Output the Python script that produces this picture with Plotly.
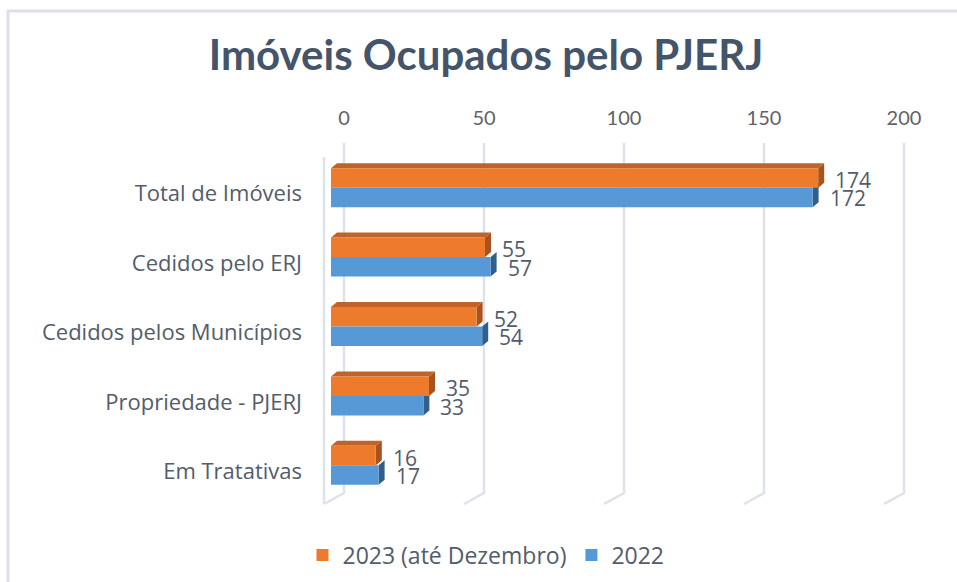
import plotly.graph_objects as go

categories = ["Total de Imóveis", "Cedidos pelo ERJ", "Cedidos pelos Municípios",
              "Propriedade - PJERJ", "Em Tratativas"]
series_2023 = [174, 55, 52, 35, 16]
series_2022 = [172, 57, 54, 33, 17]
series_names = ["2023 (até Dezembro)", "2022"]
tick_values = [0, 50, 100, 150, 200]
tick_labels = ["0", "50", "100", "150", "200"]

title_text = "Imóveis Ocupados pelo PJERJ"

# ---- layout geometry (pixels) ----
W, H = 957, 582
L, R, T, B = 331, 52, 153, 82
PW, PH = W - L - R, H - T - B
X_RANGE = [0, 205]
PX_PER_UNIT = PW / (X_RANGE[1] - X_RANGE[0])
PX_PER_CAT = PH / len(categories)
BACK_DX = 13 / PX_PER_UNIT          # back plane shift (units)
X2_RANGE = [X_RANGE[0] - BACK_DX, X_RANGE[1] - BACK_DX]
BARGAP = 0.438
BW = (1 - BARGAP) / 2               # single bar width (category units)
DEPTH_X = 6 / PX_PER_UNIT
DEPTH_Y = 5 / PX_PER_CAT

ORANGE, ORANGE_TOP, ORANGE_SIDE = "#EE7B2C", "#C0632B", "#A9521D"
BLUE, BLUE_SIDE = "#5699D6", "#2F5F8C"
GRID = "#DEE2EA"
TEXT = "#535C6B"


def px_to_paper_x(px):
    return (px - L) / PW


def px_to_paper_y(py):
    return (H - B - py) / PH


fig = go.Figure()
fig.add_trace(go.Bar(y=categories, x=series_2023, orientation="h", name=series_names[0],
                     marker=dict(color=ORANGE, line=dict(width=0))))
fig.add_trace(go.Bar(y=categories, x=series_2022, orientation="h", name=series_names[1],
                     marker=dict(color=BLUE, line=dict(width=0))))
# invisible trace to carry the top (back-plane) axis
fig.add_trace(go.Scatter(x=[tick_values[0], tick_values[-1]], y=[categories[0], categories[0]],
                         xaxis="x2", mode="markers", marker=dict(opacity=0),
                         showlegend=False, hoverinfo="skip"))

shapes = []
# chart border
shapes.append(dict(type="rect", xref="paper", yref="paper",
                   x0=px_to_paper_x(8), x1=px_to_paper_x(1100),
                   y0=px_to_paper_y(11), y1=px_to_paper_y(700),
                   line=dict(color="#DCE0E8", width=3), layer="below"))
# back-plane gridlines with floor diagonals
y_top = px_to_paper_y(143)
y_bot = px_to_paper_y(493)
y_front = px_to_paper_y(504)
for t in tick_values:
    xp = (t - X2_RANGE[0]) / (X2_RANGE[1] - X2_RANGE[0])
    xf = xp - 20 / PW
    shapes.append(dict(type="path", xref="paper", yref="paper",
                       path=f"M{xp},{y_top} L{xp},{y_bot} L{xf},{y_front}",
                       line=dict(color=GRID, width=2.5), layer="below"))
# left wall front edge
shapes.append(dict(type="line", xref="paper", yref="paper",
                   x0=px_to_paper_x(324), x1=px_to_paper_x(324),
                   y0=px_to_paper_y(157), y1=y_front,
                   line=dict(color=GRID, width=2.5), layer="below"))

# 3D faces
for i, (v23, v22) in enumerate(zip(series_2023, series_2022)):
    # blue side face
    shapes.append(dict(type="path", xref="x", yref="y",
                       path=(f"M{v22},{i} L{v22},{i + BW} L{v22 + DEPTH_X},{i + BW - DEPTH_Y} "
                             f"L{v22 + DEPTH_X},{i - DEPTH_Y} Z"),
                       fillcolor=BLUE_SIDE, line=dict(width=0), layer="below"))
for i, (v23, v22) in enumerate(zip(series_2023, series_2022)):
    top = i - BW
    shapes.append(dict(type="path", xref="x", yref="y",
                       path=(f"M0,{top} L{v23},{top} L{v23 + DEPTH_X},{top - DEPTH_Y} "
                             f"L{DEPTH_X},{top - DEPTH_Y} Z"),
                       fillcolor=ORANGE_TOP, line=dict(width=0), layer="below"))
    shapes.append(dict(type="path", xref="x", yref="y",
                       path=(f"M{v23},{top} L{v23},{i} L{v23 + DEPTH_X},{i - DEPTH_Y} "
                             f"L{v23 + DEPTH_X},{top - DEPTH_Y} Z"),
                       fillcolor=ORANGE_SIDE, line=dict(width=0), layer="below"))

LABEL_FONT = dict(size=21, color=TEXT, family="Open Sans")
annotations = []
for i, (v23, v22) in enumerate(zip(series_2023, series_2022)):
    annotations.append(dict(x=v23, y=i - BW / 2, xref="x", yref="y", text=str(v23),
                            showarrow=False, xanchor="left", yanchor="middle",
                            xshift=15, yshift=-2, font=LABEL_FONT))
    annotations.append(dict(x=v22, y=i + BW / 2, xref="x", yref="y", text=str(v22),
                            showarrow=False, xanchor="left", yanchor="middle",
                            xshift=15, yshift=-1, font=LABEL_FONT))

fig.update_layout(
    width=W, height=H,
    margin=dict(l=L, r=R, t=T, b=B, pad=0, autoexpand=False),
    paper_bgcolor="white", plot_bgcolor="rgba(0,0,0,0)",
    barmode="group", bargap=BARGAP, bargroupgap=0,
    title=dict(text=f"<b>{title_text}</b>", x=486 / W, xanchor="center",
               y=1 - 55 / H, yanchor="middle", xref="container", yref="container",
               font=dict(family="Lato", size=42, color="#44546A")),
    xaxis=dict(range=X_RANGE, showgrid=False, zeroline=False, showticklabels=False,
               showline=False, fixedrange=True, automargin=False),
    xaxis2=dict(range=X2_RANGE, overlaying="x", side="top", anchor="y",
                tickvals=tick_values, ticktext=tick_labels, showgrid=False,
                zeroline=False, showline=False, ticks="", ticklabelstandoff=23,
                automargin=False,
                tickfont=dict(family="Lato", size=20, color="#5F6368")),
    yaxis=dict(categoryorder="array", categoryarray=categories, range=[len(categories) - 0.5, -0.5],
               showgrid=False, zeroline=False, showline=False, ticks="",
               ticklabelstandoff=28, ticklabelshift=-6, automargin=False,
               tickfont=dict(family="Open Sans", size=22, color=TEXT)),
    legend=dict(orientation="h", x=px_to_paper_x(486), xanchor="center",
                y=px_to_paper_y(555), yanchor="middle",
                font=dict(family="Open Sans", size=23, color=TEXT),
                itemwidth=30, traceorder="normal"),
    shapes=shapes, annotations=annotations,
    showlegend=True,
)

fig.write_html("out.html", config={"displayModeBar": False},
               post_script="document.body.style.margin='0';document.body.style.padding='0';")
